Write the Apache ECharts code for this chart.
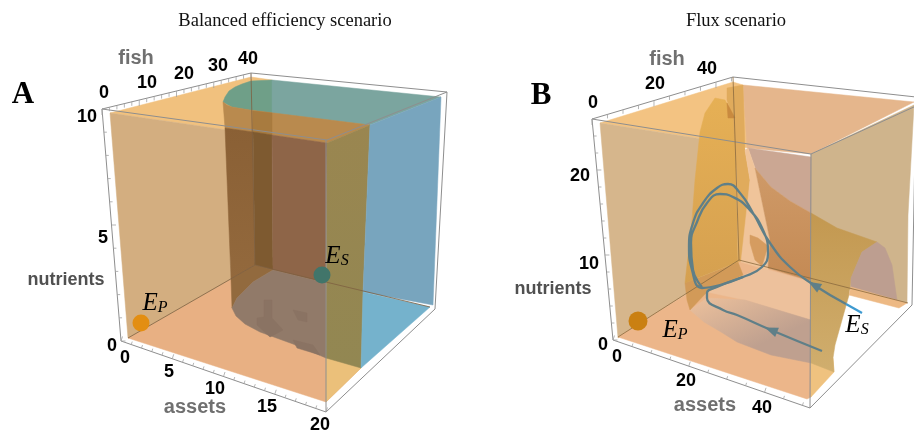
<!DOCTYPE html>
<html>
<head>
<meta charset="utf-8">
<style>
  html, body { margin: 0; padding: 0; background: #fff; }
  #chart { width: 914px; height: 433px; filter: blur(0.35px); }
</style>
<script src="https://cdn.jsdelivr.net/npm/echarts@6/dist/echarts.min.js"></script>
</head>
<body>
<div id="chart"></div>
<script>

// ---- panel A regions
const topA = [[110,113],[251,77],[272,80],[370,125],[327,143],[227,130]];
const floorA = [[128,338],[255,265],[363,292],[361,368],[326,402]];
const wallA = [[110,113],[227,130],[231,279],[128,338]];
const yellowA = [[326,358],[361,368],[326,402]];
const greenLeftA = [[223,102],[225,97],[229,91],[235,87],[242,84],[251,81],[272,80],[272,113],[250,110],[232,107]];
const greenRightA = [[272,80],[441,97],[370,125],[272,113]];
const bandA = [[223,102],[227,105],[232,107],[250,110],[370,125],[327,143],[225,128]];
const bandDarkA = [[253,111],[272,113],[272,135],[253,132]];
const strip1A = [[225,128],[253,132],[255,265],[231,279]];
const strip2A = [[253,132],[272,135],[273,270],[255,265]];
const strip3A = [[272,135],[327,143],[326,283],[273,270]];
const cornerA = [[231,279],[255,265],[273,270],[253,282],[237,298],[232,308]];
const shadowA = [[273,270],[326,283],[326,358],[293,344],[260,332],[245,324],[236,316],[232,308],[237,298],[253,282]];
const oliveA = [[327,143],[370,125],[363,292],[361,368],[326,358]];
const blueWallA = [[370,125],[441,97],[433,305],[363,292]];
const blueFloorA = [[363,292],[430,307],[361,368]];
const blob1A = [[264,300],[272,300],[272,318],[283,330],[270,337],[257,325],[257,318],[264,317]];
const blob2A = [[293,310],[307,313],[307,322],[298,320]];
const blob3A = [[293,340],[313,345],[320,355],[297,348]];

// ---- panel B regions
const topLeftB = [[600,123],[733,82],[743,85],[748,148],[702,139]];
const topRightB = [[743,85],[914,102],[811,154],[747,148]];
const wallLeftB = [[600,123],[702,139],[692,220],[692,290],[618,338]];
const wallRightB = [[811,154],[914,105],[908,215],[907,303],[851,290],[811,281]];
const floorB = [[618,337],[741,260],[811,281],[811,397],[807,399]];
const yellowB = [[811,362],[833,358],[834,372],[811,397]];
const peachFloorB = [[707,292],[739,277],[762,268],[811,282],[811,320],[745,300]];
const bandB = [[707,298],[745,300],[811,320],[811,363],[771,355],[737,342],[721,332],[704,322],[690,310]];
const wedgeB = [[685,283],[738,262],[743,275],[707,292],[690,310],[687,300]];
const bodyB = [[705,113],[715,98],[725,100],[735,118],[738,262],[685,283],[692,220],[695,180],[700,132]];
const stripB = [[727,88],[743,85],[745,150],[750,180],[745,260],[738,262],[737,180],[733,118],[727,100]];
const tipB = [[727,103],[735,118],[728,118]];
const peachB = [[745,150],[748,148],[755,168],[770,240],[768,270],[741,262],[750,180]];
const pinkTopB = [[748,148],[811,157],[811,213],[790,201],[771,187],[755,168]];
const darkBandB = [[755,168],[771,187],[790,201],[811,213],[811,281],[768,268],[770,240]];
const innerTipB = [[750,235],[758,238],[768,246],[762,266],[755,260],[750,243]];
const surfaceB = [[811,213],[837,228],[877,242],[862,252],[851,278],[849,295],[835,345],[833,358],[834,372],[811,363],[811,281]];
const archB = [[877,242],[885,248],[892,265],[897,300],[851,288],[851,278],[862,252]];
const floorStripB = [[851,287],[907,303],[899,308],[849,295]];

// ---- trajectories in panel B
const orbitOuter = [[846,304],[814,285],[790,267],[770,243],[753,213],[740,193],[728,184],[717,188],[703,203],[693,223],[689,247],[692,270],[702,288],[720,285],[743,277],[762,267],[768,253],[763,230],[748,208],[733,197],[720,194],[707,203],[697,222],[691,243],[693,270],[702,287]];
const orbitTail = [[862,313],[846,304]];
const orbitInflow = [[822,351],[771,330],[737,315],[723,310],[707,298],[707,293],[717,287],[743,277]];

// ---- box edges [x1,y1,x2,y2]
const frameA = [[102,109,251,73],[251,73,447,92],[102,109,327,140],[327,140,447,92],[102,109,121,341],[447,92,435,309],[121,341,326,412],[326,412,435,309],[326,140,326,412]];
const seamsA = [[128,338,255,265],[255,265,430,307],[251,73,255,265]];
const frameB = [[592,119,733,77],[733,77,916,97],[592,119,811,154],[811,154,916,106],[592,119,613,340],[916,97,912,305],[613,340,810,408],[810,408,912,305],[811,154,810,408]];
const seamsB = [[618,337,739,260],[739,260,908,303],[733,77,739,260]];

// ---- axis ticks
const fishTicksA = [0,2,4,6,8,10,12,14,16,18,20,22,24,26,28,30,32,34,36,38,40];
const nutrientTicksA = [0,1,2,3,4,5,6,7,8,9,10];
const assetTicksA = [0,1,2,3,4,5,6,7,8,9,10,11,12,13,14,15,16,17,18,19,20];
const fishTicksB = [0,5,10,15,20,25,30,35,40,45];
const nutrientTicksB = [0,2,4,6,8,10,12,14,16,18,20,22,24,26];
const assetTicksB = [0,5,10,15,20,25,30,35,40,45,50];

// ---- text [x, y, text]
const tickLabels = [
  [104,93,"0"],[147,83,"10"],[184,74,"20"],[218,66,"30"],[248,59,"40"],
  [87,117,"10"],[103,238,"5"],[112,346,"0"],
  [125,358,"0"],[169,372,"5"],[215,389,"10"],[267,407,"15"],[320,425,"20"],
  [593,103,"0"],[655,84,"20"],[707,69,"40"],
  [580,176,"20"],[589,264,"10"],[603,345,"0"],
  [617,357,"0"],[686,381,"20"],[762,408,"40"]
];
const lightNames = [[136,58,"fish"],[195,407,"assets"],[667,59,"fish"],[705,405,"assets"]];
const darkNames = [[66,280,"nutrients"],[553,289,"nutrients"]];
const panelLetters = [[23,95,"A"],[541,96,"B"]];
const titles = [[285,21,"Balanced efficiency scenario"],[736,21,"Flux scenario"]];
const equilibria = [[141,323],[322,275],[638,321]];
const equilibriumNames = [[155,303,"P"],[337,256,"S"],[675,330,"P"],[857,325,"S"]];
const arrowHeads = [[771,330,68],[814,285,60]];

const grad = (a, b, x2 = 0, y2 = 1) => new echarts.graphic.LinearGradient(0, 0, x2, y2, [
  { offset: 0, color: a }, { offset: 1, color: b },
]);

// painter order, back to front
const regions = [
  [topA, "#F1C17E"], [floorA, "#E8B083"], [wallA, "#D3AE80"], [yellowA, "#EBC07A"],
  [greenLeftA, "#6F9F88"], [greenRightA, "#7BA59F"],
  [bandA, "#B98A4E"], [bandDarkA, "#A87B3F"],
  [strip1A, grad("#8A6035", "#93693D")], [strip2A, "#7E5A30"], [strip3A, "#8E6548"],
  [cornerA, "#926A3E"], [shadowA, "#917A69"],
  [blob1A, "#8A7363"], [blob2A, "#8A7363"], [blob3A, "#8A7363"],
  [oliveA, grad("#9A8650", "#928752")], [blueWallA, "#78A5BE"], [blueFloorA, "#75B2CC"],

  [topLeftB, "#F3C382"], [topRightB, "#E5B68C"], [wallLeftB, "#D6B68C"], [wallRightB, "#CFB48C"],
  [floorB, "#ECB68A"], [yellowB, "#EFC27F"], [peachFloorB, "#EDC19C"],
  [bandB, grad("#EDC19C", "#BFA08F", 0.25, 1)],
  [wedgeB, "#D29A58"], [bodyB, grad("#E6B055", "#D5A050")], [stripB, "#E0AB5C"], [tipB, "#C98A3F"],
  [pinkTopB, "#CBA793"], [peachB, "#F0C49A"], [darkBandB, grad("#CF9A68", "#C48A54")], [innerTipB, "#D59C60"],
  [surfaceB, grad("#C39850", "#D0AE6E")], [archB, "#BD9E90"], [floorStripB, "#EDB984"],
];

const edgeGroups = [
  [frameA, "#8E8E8E", 1], [seamsA, "#7D6040", 0.8],
  [frameB, "#8E8E8E", 1], [seamsB, "#8A6A3E", 0.8],
];

// axis edge, value range and which way its ticks point
const tickAxes = [
  { ticks: fishTicksA, max: 40, from: [102,109], to: [251,73], dir: [0,4], major: 10 },
  { ticks: nutrientTicksA, max: 10, from: [121,341], to: [102,109], dir: [3,0], major: 5 },
  { ticks: assetTicksA, max: 20, from: [121,341], to: [326,412], dir: [1,-3], major: 5 },
  { ticks: fishTicksB, max: 45.5, from: [592,119], to: [733,77], dir: [0,4], major: 20 },
  { ticks: nutrientTicksB, max: 26, from: [613,340], to: [592,119], dir: [3,0], major: 10 },
  { ticks: assetTicksB, max: 52, from: [613,340], to: [810,408], dir: [1,-3], major: 20 },
];

const tickData = [];
tickAxes.forEach((a, i) => a.ticks.forEach((v) => tickData.push([i, v])));

// scatter defaults to opacity 0.8 and its labels inherit that
const textSeries = (data, font) => ({
  type: "scatter",
  data,
  symbolSize: 0,
  silent: true,
  z: 20,
  itemStyle: { opacity: 1 },
  label: { show: true, position: "inside", formatter: (p) => p.value[2], ...font },
});

const lineSeries = (data, color, width) => ({
  type: "line",
  data,
  smooth: 0.5,
  symbol: "none",
  silent: true,
  z: 12,
  lineStyle: { color, width },
});

const chart = echarts.init(document.getElementById("chart"));
chart.setOption({
  animation: false,
  backgroundColor: "#fff",
  grid: { left: 0, right: 0, top: 0, bottom: 0 },
  xAxis: { type: "value", min: 0, max: 914, show: false },
  yAxis: { type: "value", min: 0, max: 433, inverse: true, show: false },
  series: [
    {
      type: "custom",
      data: regions.map((r, i) => [i]),
      silent: true,
      z: 2,
      renderItem: (params, api) => {
        const [pts, fill] = regions[api.value(0)];
        return {
          type: "polygon",
          shape: { points: pts.map((p) => api.coord(p)) },
          style: { fill, stroke: fill, lineWidth: 0.5 },
        };
      },
    },
    {
      type: "custom",
      data: edgeGroups.flatMap((g, i) => g[0].map((e, j) => [i, j])),
      silent: true,
      z: 10,
      renderItem: (params, api) => {
        const [edges, stroke, lineWidth] = edgeGroups[api.value(0)];
        const e = edges[api.value(1)];
        const a = api.coord([e[0], e[1]]);
        const b = api.coord([e[2], e[3]]);
        return {
          type: "line",
          shape: { x1: a[0], y1: a[1], x2: b[0], y2: b[1] },
          style: { stroke, lineWidth },
        };
      },
    },
    {
      type: "custom",
      data: tickData,
      silent: true,
      z: 10,
      renderItem: (params, api) => {
        const axis = tickAxes[api.value(0)];
        const v = api.value(1);
        const t = v / axis.max;
        const x = axis.from[0] + (axis.to[0] - axis.from[0]) * t;
        const y = axis.from[1] + (axis.to[1] - axis.from[1]) * t;
        const k = v % axis.major === 0 ? 1.5 : 1;
        const a = api.coord([x, y]);
        const b = api.coord([x + axis.dir[0] * k, y + axis.dir[1] * k]);
        return {
          type: "line",
          shape: { x1: a[0], y1: a[1], x2: b[0], y2: b[1] },
          style: { stroke: "#A2A2A2", lineWidth: 0.8 },
        };
      },
    },
    lineSeries(orbitOuter, "#5F7F88", 2.3),
    lineSeries(orbitInflow, "#5F7F88", 2.3),
    lineSeries(orbitTail, "#3E9AD0", 2.3),
    {
      type: "scatter",
      data: arrowHeads.map((a) => ({ value: [a[0], a[1]], symbolRotate: a[2] })),
      symbol: "triangle",
      symbolSize: [10, 13],
      silent: true,
      z: 13,
      itemStyle: { color: "#5F7F88", opacity: 1 },
    },
    {
      type: "scatter",
      data: [
        { value: equilibria[0], symbolSize: 17, itemStyle: { color: "#E38E12", opacity: 1 } },
        { value: equilibria[1], symbolSize: 17, itemStyle: { color: "#41756A", opacity: 1 } },
        { value: equilibria[2], symbolSize: 19, itemStyle: { color: "#CA8012", opacity: 1 } },
      ],
      silent: true,
      z: 14,
    },
    textSeries(tickLabels, { fontFamily: "Liberation Sans", fontWeight: "bold", fontSize: 18, color: "#000" }),
    textSeries(lightNames, { fontFamily: "Liberation Sans", fontWeight: "bold", fontSize: 20, color: "#707070" }),
    textSeries(darkNames, { fontFamily: "Liberation Sans", fontWeight: "bold", fontSize: 18, color: "#505050" }),
    textSeries(panelLetters, { fontFamily: "Liberation Serif", fontWeight: "bold", fontSize: 31, color: "#000" }),
    textSeries(titles, { fontFamily: "Liberation Serif", fontSize: 18.5, color: "#111" }),
    {
      type: "scatter",
      data: equilibriumNames,
      symbolSize: 0,
      silent: true,
      z: 20,
      itemStyle: { opacity: 1 },
      label: {
        show: true,
        position: "inside",
        formatter: (p) => `{e|E}{s|${p.value[2]}}`,
        rich: {
          e: { fontFamily: "Liberation Serif", fontStyle: "italic", fontSize: 25, color: "#000", lineHeight: 26 },
          s: { fontFamily: "Liberation Serif", fontStyle: "italic", fontSize: 16, color: "#000", padding: [10, 0, 0, 0], lineHeight: 26 },
        },
      },
    },
  ],
});
</script>
</body>
</html>
